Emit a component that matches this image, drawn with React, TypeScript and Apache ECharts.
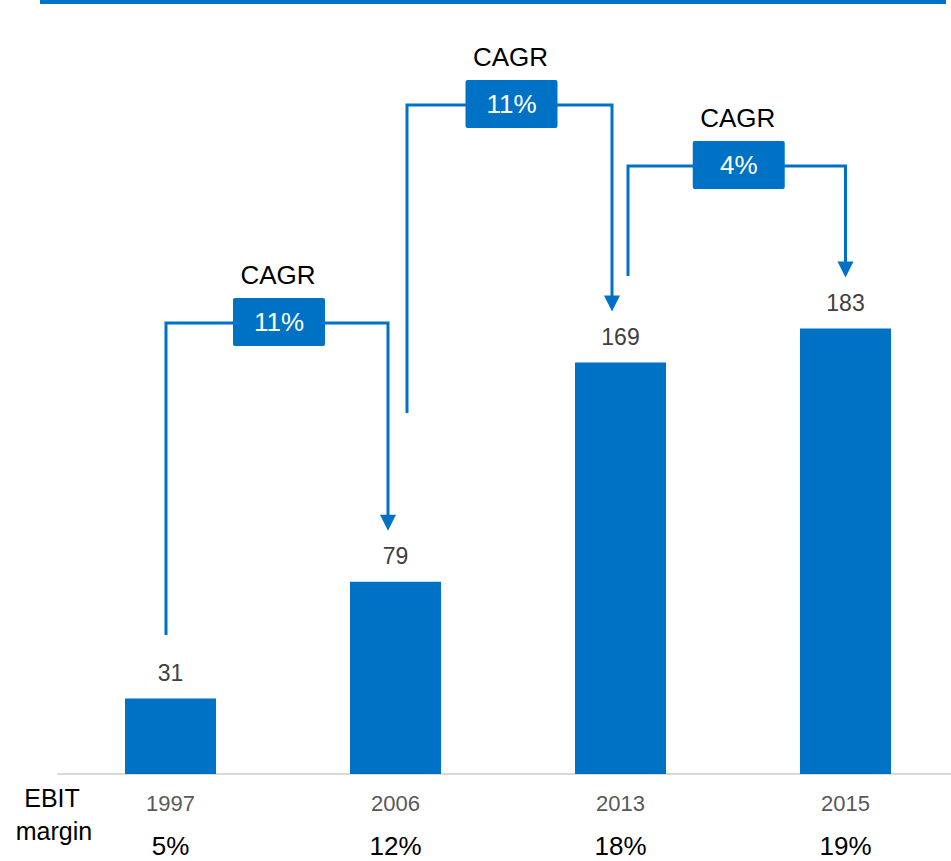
import { useEffect, useRef } from "react";
import * as echarts from "echarts";

// EBIT by year (bar values) and EBIT margin shown under each year
const years = ["1997", "2006", "2013", "2015"];
const ebit = [31, 79, 169, 183];
const ebitMargins = ["5%", "12%", "18%", "19%"];

// CAGR brackets: from bar index, to bar index, growth rate
const cagrFrom = [0, 1, 2];
const cagrTo = [1, 2, 3];
const cagrRates = ["11%", "11%", "4%"];

const BLUE = "#0072C6";
const FONT = "'Liberation Sans', Arial, Helvetica, sans-serif";

// bracket geometry (px): leg offsets from bar centres, crossbar height, bottom of start leg
const bracketLayout = [
  { dxStart: -4.5, dxEnd: -7.5, crossY: 323, startBottom: 635 },
  { dxStart: 11.5, dxEnd: -8.5, crossY: 105, startBottom: 413 },
  { dxStart: 7.5, dxEnd: 0, crossY: 166, startBottom: 276 },
];

export default function App() {
  const ref = useRef<HTMLDivElement>(null);

  useEffect(() => {
    document.body.style.margin = "0";
    if (!ref.current) return;
    const chart = echarts.init(ref.current, null, { renderer: "svg" });

    chart.setOption({
      animation: false,
      grid: {
        left: 58,
        top: 287,
        width: 900,
        height: 487,
        outerBoundsMode: "none",
        containLabel: false,
      },
      xAxis: {
        type: "category",
        data: years,
        axisLine: { lineStyle: { color: "#d9d9d9", width: 2 } },
        axisTick: { show: false },
        axisLabel: {
          margin: 14,
          formatter: (value: string, idx: number) =>
            `{y|${value}}\n{m|${ebitMargins[idx]}}`,
          rich: {
            y: { fontSize: 22, color: "#595959", fontFamily: FONT, lineHeight: 30 },
            m: { fontSize: 26, color: "#000000", fontFamily: FONT, lineHeight: 56 },
          },
        },
      },
      yAxis: { type: "value", min: 0, max: 200, show: false },
      series: [
        {
          type: "bar",
          data: ebit,
          barWidth: 91,
          itemStyle: { color: BLUE },
          label: {
            show: true,
            position: "top",
            distance: 14,
            color: "#404040",
            fontSize: 23,
            fontFamily: FONT,
          },
        },
      ],
    });

    const px = (i: number, v: number) =>
      chart.convertToPixel({ seriesIndex: 0 }, [i, v]) as number[];

    const elements: any[] = [
      {
        type: "rect",
        shape: { x: 40, y: 0, width: 906, height: 4 },
        style: { fill: BLUE },
      },
      {
        type: "text",
        x: 52,
        y: 798,
        style: {
          text: "EBIT",
          font: `25px ${FONT}`,
          fill: "#000",
          align: "center",
          verticalAlign: "middle",
        },
      },
      {
        type: "text",
        x: 54,
        y: 831,
        style: {
          text: "margin",
          font: `25px ${FONT}`,
          fill: "#000",
          align: "center",
          verticalAlign: "middle",
        },
      },
    ];

    cagrFrom.forEach((from, k) => {
      const to = cagrTo[k];
      const lay = bracketLayout[k];
      const [cx0] = px(from, ebit[from]);
      const [cx1, top1] = px(to, ebit[to]);
      const xL = cx0 + lay.dxStart;
      const xR = cx1 + lay.dxEnd;
      const tip = top1 - 51;
      const boxW = 92;
      const boxH = 48;
      const boxCx = (xL + xR) / 2 + 2;
      const boxTop = lay.crossY - boxH / 2 - 1;

      elements.push(
        {
          type: "polyline",
          shape: {
            points: [
              [xL, lay.startBottom],
              [xL, lay.crossY],
              [xR, lay.crossY],
              [xR, tip - 14],
            ],
          },
          style: { stroke: BLUE, lineWidth: 3, fill: null },
        },
        {
          type: "polygon",
          shape: {
            points: [
              [xR - 8, tip - 16],
              [xR + 8, tip - 16],
              [xR, tip],
            ],
          },
          style: { fill: BLUE },
        },
        {
          type: "rect",
          shape: { x: boxCx - boxW / 2, y: boxTop, width: boxW, height: boxH, r: 2 },
          style: { fill: BLUE },
        },
        {
          type: "text",
          x: boxCx,
          y: boxTop + boxH / 2,
          style: {
            text: cagrRates[k],
            font: `26px ${FONT}`,
            fill: "#ffffff",
            align: "center",
            verticalAlign: "middle",
          },
        },
        {
          type: "text",
          x: boxCx - 1,
          y: boxTop - 23,
          style: {
            text: "CAGR",
            font: `26px ${FONT}`,
            fill: "#000000",
            align: "center",
            verticalAlign: "middle",
          },
        }
      );
    });

    chart.setOption({ graphic: { elements } });

    return () => chart.dispose();
  }, []);

  return (
    <div
      ref={ref}
      style={{ position: "absolute", left: 0, top: 0, width: 951, height: 861 }}
    />
  );
}
